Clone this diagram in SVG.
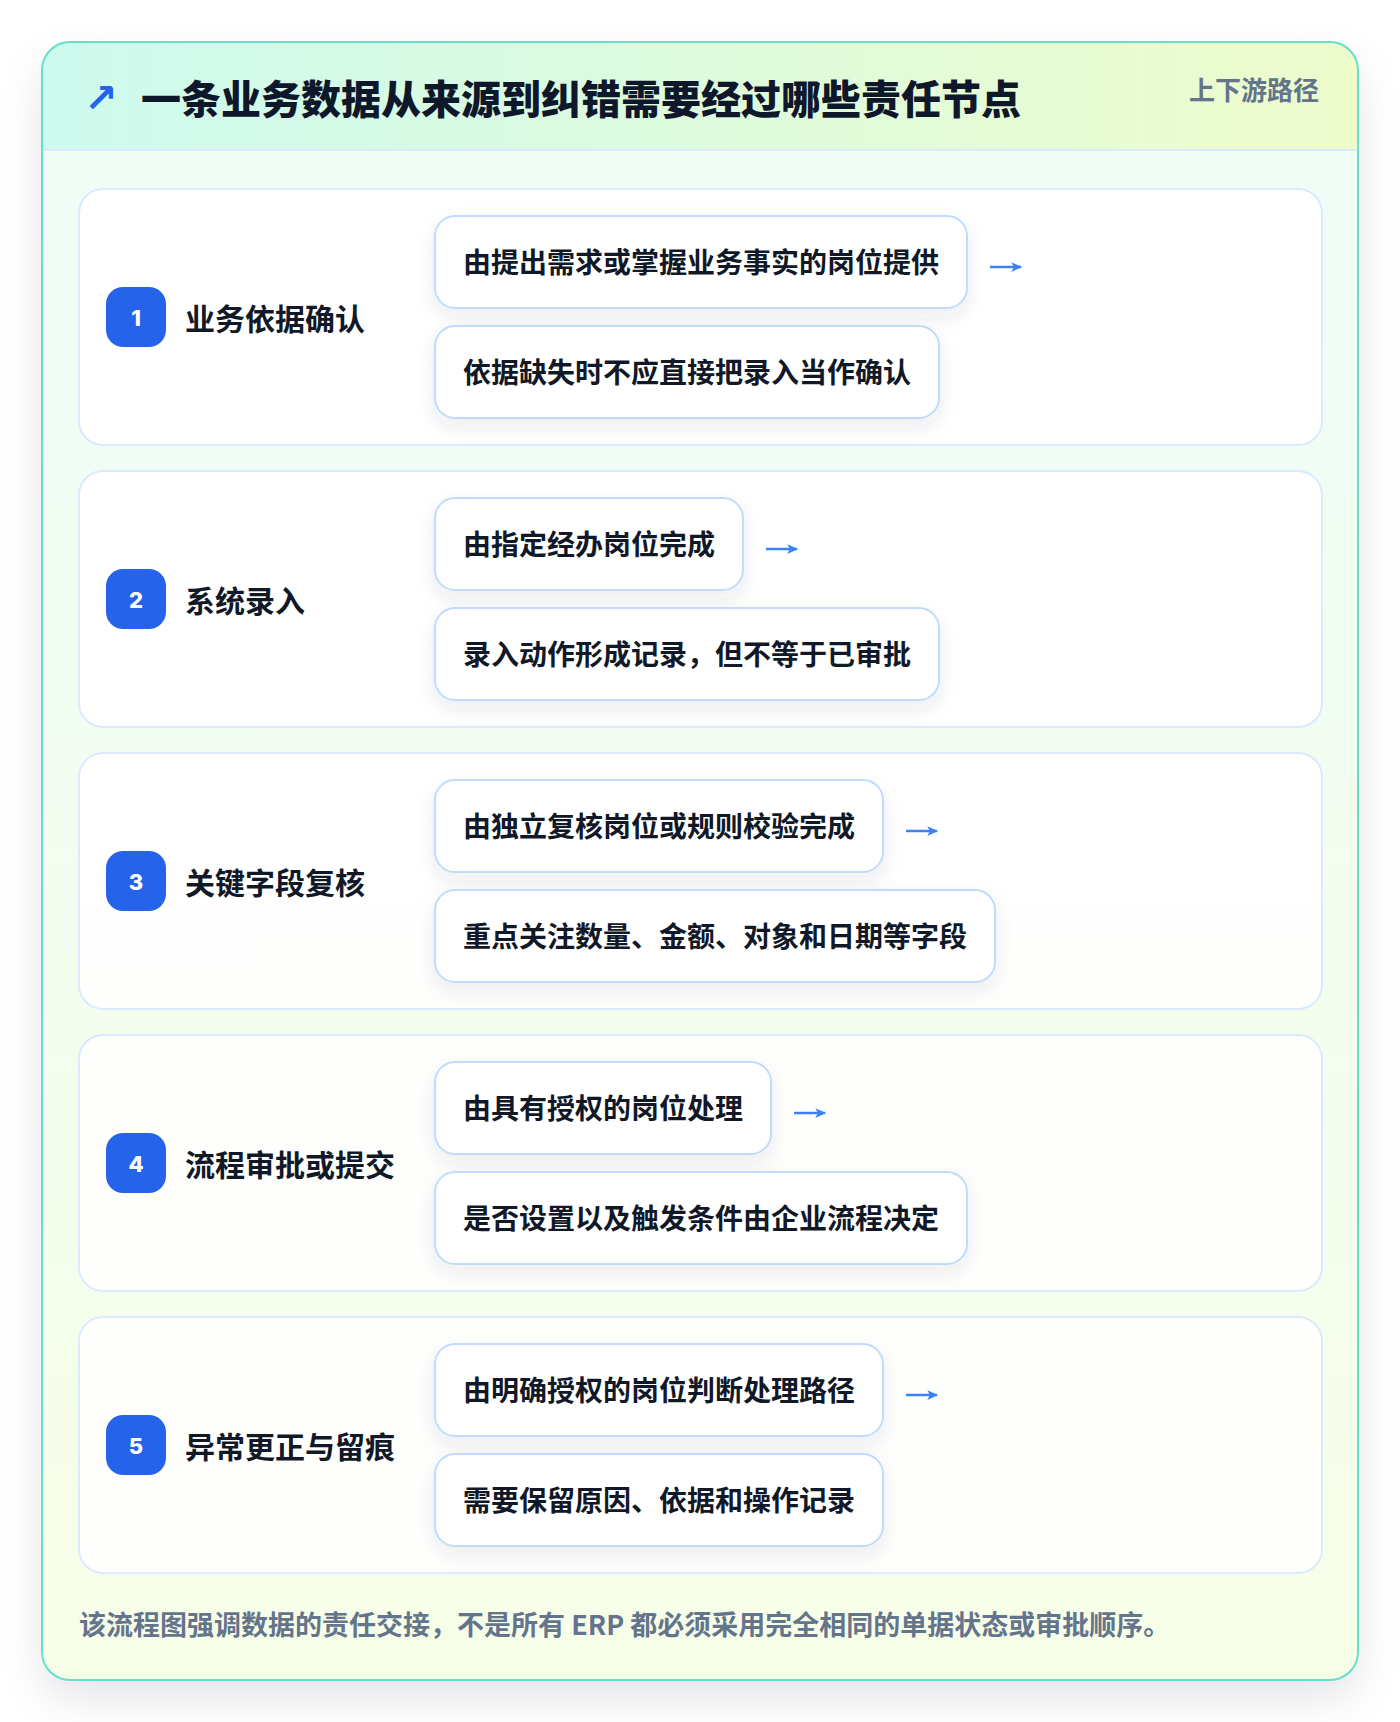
<svg xmlns="http://www.w3.org/2000/svg" width="1400" height="1722" viewBox="0 0 1400 1722">
<defs>
<linearGradient id="hdr" x1="0" y1="0" x2="1" y2="0">
<stop offset="0" stop-color="#cdfaee"/><stop offset="1" stop-color="#eefccc"/>
</linearGradient>
<linearGradient id="body" x1="0" y1="0" x2="0" y2="1">
<stop offset="0" stop-color="#effdf8"/><stop offset="1" stop-color="#f7fee8"/>
</linearGradient>
<clipPath id="cardClip"><rect x="42" y="42" width="1316" height="1638" rx="28"/></clipPath>
<filter id="outerShadow" x="-10%" y="-10%" width="120%" height="120%">
<feDropShadow dx="0" dy="18" stdDeviation="20" flood-color="#0f172a" flood-opacity="0.10"/>
</filter>
<filter id="boxShadow" x="-20%" y="-30%" width="140%" height="170%">
<feDropShadow dx="0" dy="8" stdDeviation="9" flood-color="#334155" flood-opacity="0.09"/>
</filter>
<marker id="ah" viewBox="0 0 12 12" refX="10" refY="6" markerWidth="13" markerHeight="13" markerUnits="userSpaceOnUse" orient="auto">
<path d="M1,1.5 L11,6 L1,10.5 L3.5,6 Z" fill="#3b82f6"/>
</marker>
<style>
.cjk{font-family:"Noto Sans CJK SC","Noto Sans",sans-serif;}
.title{font-size:40px;font-weight:900;fill:#0f172a;}
.tag{font-size:26px;font-weight:700;fill:#64748b;}
.step{fill:#ffffff;fill-opacity:0.88;stroke:#dbeafe;stroke-width:2;}
.badge{fill:#2563eb;}
.num{font-family:Inter,"Noto Sans",sans-serif;font-size:22px;font-weight:800;fill:#ffffff;}
.stitle{font-size:30px;font-weight:700;fill:#111827;}
.box{fill:#ffffff;stroke:#bfdbfe;stroke-width:2;}
.btext{font-size:28px;font-weight:700;fill:#111827;}
.conn{stroke:#3b82f6;stroke-width:2.5;fill:none;}
.foot{font-size:27px;font-weight:700;fill:#64748b;}
</style>
</defs>
<rect width="1400" height="1722" fill="#ffffff"/>
<g id="card">
<rect x="42" y="42" width="1316" height="1638" rx="28" fill="url(#body)" filter="url(#outerShadow)"/>
<g clip-path="url(#cardClip)">
<rect x="42" y="42" width="1316" height="108" fill="url(#hdr)"/>
<line x1="42" y1="150" x2="1358" y2="150" stroke="#dbeafe" stroke-width="2"/>
</g>
<rect x="42" y="42" width="1316" height="1638" rx="28" fill="none" stroke="#67e0cb" stroke-width="2"/>
</g>
<g id="header">
<text x="84" y="98" font-family="DejaVu Sans,sans-serif" font-size="40" font-weight="700" fill="#2563eb" dominant-baseline="central">↗</text>
<text class="cjk title" x="141" y="97" dominant-baseline="central">一条业务数据从来源到纠错需要经过哪些责任节点</text>
<text class="cjk tag" x="1319" y="88" text-anchor="end" dominant-baseline="central">上下游路径</text>
</g>
<g id="step1">
<rect class="step" x="79" y="189" width="1243" height="256" rx="24"/>
<rect class="badge" x="106" y="287" width="60" height="60" rx="17"/>
<text class="num" x="136" y="318" text-anchor="middle" dominant-baseline="central">1</text>
<text class="cjk stitle" x="185" y="317" dominant-baseline="central">业务依据确认</text>
<rect class="box" x="435" y="216" width="532" height="92" rx="20" filter="url(#boxShadow)"/>
<text class="cjk btext" x="463" y="261" dominant-baseline="central">由提出需求或掌握业务事实的岗位提供</text>
<rect class="box" x="435" y="326" width="504" height="92" rx="20" filter="url(#boxShadow)"/>
<text class="cjk btext" x="463" y="371" dominant-baseline="central">依据缺失时不应直接把录入当作确认</text>
</g>
<g id="step2">
<rect class="step" x="79" y="471" width="1243" height="256" rx="24"/>
<rect class="badge" x="106" y="569" width="60" height="60" rx="17"/>
<text class="num" x="136" y="600" text-anchor="middle" dominant-baseline="central">2</text>
<text class="cjk stitle" x="185" y="599" dominant-baseline="central">系统录入</text>
<rect class="box" x="435" y="498" width="308" height="92" rx="20" filter="url(#boxShadow)"/>
<text class="cjk btext" x="463" y="543" dominant-baseline="central">由指定经办岗位完成</text>
<rect class="box" x="435" y="608" width="504" height="92" rx="20" filter="url(#boxShadow)"/>
<text class="cjk btext" x="463" y="653" dominant-baseline="central">录入动作形成记录，但不等于已审批</text>
</g>
<g id="step3">
<rect class="step" x="79" y="753" width="1243" height="256" rx="24"/>
<rect class="badge" x="106" y="851" width="60" height="60" rx="17"/>
<text class="num" x="136" y="882" text-anchor="middle" dominant-baseline="central">3</text>
<text class="cjk stitle" x="185" y="881" dominant-baseline="central">关键字段复核</text>
<rect class="box" x="435" y="780" width="448" height="92" rx="20" filter="url(#boxShadow)"/>
<text class="cjk btext" x="463" y="825" dominant-baseline="central">由独立复核岗位或规则校验完成</text>
<rect class="box" x="435" y="890" width="560" height="92" rx="20" filter="url(#boxShadow)"/>
<text class="cjk btext" x="463" y="935" dominant-baseline="central">重点关注数量、金额、对象和日期等字段</text>
</g>
<g id="step4">
<rect class="step" x="79" y="1035" width="1243" height="256" rx="24"/>
<rect class="badge" x="106" y="1133" width="60" height="60" rx="17"/>
<text class="num" x="136" y="1164" text-anchor="middle" dominant-baseline="central">4</text>
<text class="cjk stitle" x="185" y="1163" dominant-baseline="central">流程审批或提交</text>
<rect class="box" x="435" y="1062" width="336" height="92" rx="20" filter="url(#boxShadow)"/>
<text class="cjk btext" x="463" y="1107" dominant-baseline="central">由具有授权的岗位处理</text>
<rect class="box" x="435" y="1172" width="532" height="92" rx="20" filter="url(#boxShadow)"/>
<text class="cjk btext" x="463" y="1217" dominant-baseline="central">是否设置以及触发条件由企业流程决定</text>
</g>
<g id="step5">
<rect class="step" x="79" y="1317" width="1243" height="256" rx="24"/>
<rect class="badge" x="106" y="1415" width="60" height="60" rx="17"/>
<text class="num" x="136" y="1446" text-anchor="middle" dominant-baseline="central">5</text>
<text class="cjk stitle" x="185" y="1445" dominant-baseline="central">异常更正与留痕</text>
<rect class="box" x="435" y="1344" width="448" height="92" rx="20" filter="url(#boxShadow)"/>
<text class="cjk btext" x="463" y="1389" dominant-baseline="central">由明确授权的岗位判断处理路径</text>
<rect class="box" x="435" y="1454" width="448" height="92" rx="20" filter="url(#boxShadow)"/>
<text class="cjk btext" x="463" y="1499" dominant-baseline="central">需要保留原因、依据和操作记录</text>
</g>
<g id="connectors">
<path class="conn" d="M990,267 H1021" marker-end="url(#ah)"/>
<path class="conn" d="M766,549 H797" marker-end="url(#ah)"/>
<path class="conn" d="M906,831 H937" marker-end="url(#ah)"/>
<path class="conn" d="M794,1113 H825" marker-end="url(#ah)"/>
<path class="conn" d="M906,1395 H937" marker-end="url(#ah)"/>
</g>
<g id="footer">
<text class="cjk foot" x="79" y="1623" dominant-baseline="central">该流程图强调数据的责任交接，不是所有 ERP 都必须采用完全相同的单据状态或审批顺序。</text>
</g>
</svg>
